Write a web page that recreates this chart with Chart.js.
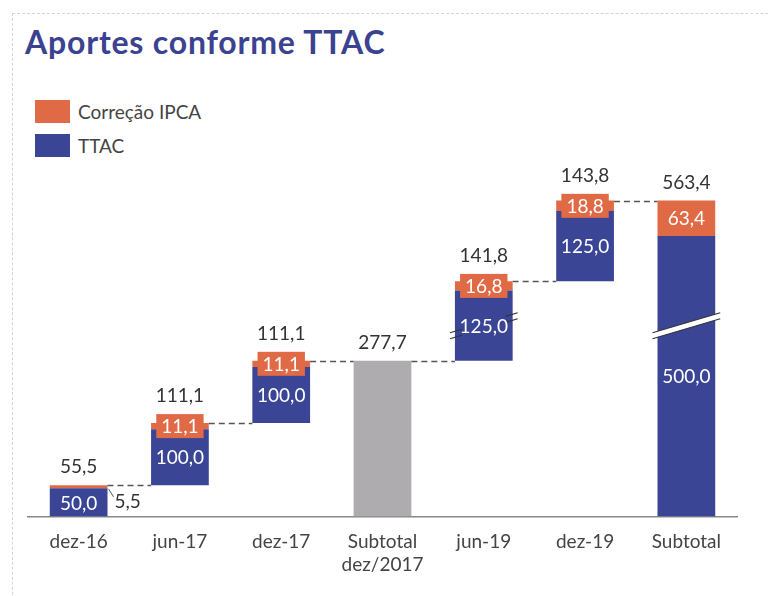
<!DOCTYPE html>
<html>
<head>
<meta charset="utf-8">
<script src="https://cdn.jsdelivr.net/npm/chart.js@4.4.1/dist/chart.umd.min.js"></script>
<style>
  html, body { margin: 0; padding: 0; background: #fff; }
  #wrap { position: relative; width: 770px; height: 596px; overflow: hidden; font-family: Lato, 'Open Sans', sans-serif; }
  #frame { position: absolute; left: 12px; top: 13px; width: 900px; height: 900px; border-left: 1px dashed #d4d4d4; border-top: 1px dashed #d4d4d4; }
  h1 { position: absolute; left: 25px; top: 22px; margin: 0; font-size: 32px; font-weight: 700; color: #3b4290; letter-spacing: 0.8px; }
  .leg { position: absolute; left: 35px; height: 23px; line-height: 23px; font-size: 19px; color: #444; }
  .leg span { display: inline-block; width: 35px; height: 23px; vertical-align: top; margin-right: 8px; }
  canvas { position: absolute; left: 0; top: 0; }
</style>
</head>
<body>
<div id="wrap">
  <div id="frame"></div>
  <h1>Aportes conforme TTAC</h1>
  <div class="leg" style="top:100px"><span style="background:#e06a45"></span>Correção IPCA</div>
  <div class="leg" style="top:134px"><span style="background:#3a4596"></span>TTAC</div>
  <canvas id="chart" width="770" height="596"></canvas>
</div>
<script>
// data
const categories = ['dez-16', 'jun-17', 'dez-17', ['Subtotal', 'dez/2017'], 'jun-19', 'dez-19', 'Subtotal'];
const ttac = [50.0, 100.0, 100.0, null, 125.0, 125.0, 500.0];
const ipca = [5.5, 11.1, 11.1, null, 16.8, 18.8, 63.4];
const subtotal = [null, null, null, 277.7, null, null, null];
const totals = [55.5, 111.1, 111.1, 277.7, 141.8, 143.8, 563.4];
const isSubtotal = [false, false, false, true, false, false, true];

const BLUE = '#3a4596';
const ORANGE = '#e06a45';
const GRAY = '#afacaf';
const FONT = 'Lato, "Open Sans", sans-serif';

// floating ranges for the waterfall
const bases = [];
let running = 0;
categories.forEach((c, i) => {
    if (isSubtotal[i]) {
        bases.push(0);
    } else {
        bases.push(running);
        running += ttac[i] + ipca[i];
    }
});
const ttacBars = ttac.map((v, i) => v == null ? null : [bases[i], bases[i] + v]);
const ipcaBars = ipca.map((v, i) => v == null ? null : [bases[i] + ttac[i], bases[i] + ttac[i] + v]);
const grayBars = subtotal.map(v => v == null ? null : [0, v]);
const tops = categories.map((c, i) => subtotal[i] != null ? subtotal[i] : bases[i] + ttac[i] + ipca[i]);

const fmt = v => v.toFixed(1).replace('.', ',');

const waterfallPlugin = {
    id: 'waterfall',
    afterDatasetsDraw(chart) {
        const ctx = chart.ctx;
        const y = chart.scales.y;
        const bar = i => {
            const m = chart.getDatasetMeta(subtotal[i] != null ? 2 : 0).data[i];
            return { x: m.x, w: m.width };
        };
        ctx.save();

        // dashed connectors
        ctx.strokeStyle = '#555';
        ctx.lineWidth = 1.5;
        ctx.setLineDash([6, 4]);
        for (let i = 0; i < categories.length - 1; i++) {
            const a = bar(i), b = bar(i + 1);
            const py = Math.round(y.getPixelForValue(tops[i])) + 0.5;
            ctx.beginPath();
            ctx.moveTo(a.x + a.w / 2, py);
            ctx.lineTo(b.x - b.w / 2, py);
            ctx.stroke();
        }
        ctx.setLineDash([]);

        // axis break marks
        [{ i: 4, full: false }, { i: 6, full: true }].forEach(br => {
            const b = bar(br.i);
            const cy = y.getPixelForValue(340);
            const x0 = b.x - b.w / 2 - 5, x1 = b.x + b.w / 2 + 5;
            const slope = -20 / (x1 - x0);
            if (br.full) {
                ctx.fillStyle = '#fff';
                ctx.beginPath();
                ctx.moveTo(x0, cy + 10 - 3);
                ctx.lineTo(x1, cy - 10 - 3);
                ctx.lineTo(x1, cy - 10 + 3);
                ctx.lineTo(x0, cy + 10 + 3);
                ctx.closePath();
                ctx.fill();
            }
            ctx.strokeStyle = '#333';
            ctx.lineWidth = 1.2;
            [-3, 3].forEach(off => {
                ctx.beginPath();
                if (br.full) {
                    ctx.moveTo(x0, cy + 10 + off);
                    ctx.lineTo(x1, cy - 10 + off);
                } else {
                    ctx.moveTo(x0, cy + 10 + off);
                    ctx.lineTo(x0 + 12, cy + 10 + off + slope * 12);
                    ctx.moveTo(x1 - 12, cy - 10 + off - slope * 12);
                    ctx.lineTo(x1, cy - 10 + off);
                }
                ctx.stroke();
            });
        });

        ctx.font = '19px ' + FONT;
        ctx.textAlign = 'center';
        ctx.textBaseline = 'middle';

        categories.forEach((c, i) => {
            const b = bar(i);
            let topPx = y.getPixelForValue(tops[i]);
            if (ttac[i] != null) {
                // TTAC label
                const cy = (y.getPixelForValue(ttacBars[i][0]) + y.getPixelForValue(ttacBars[i][1])) / 2;
                ctx.fillStyle = '#fff';
                ctx.fillText(fmt(ttac[i]), b.x, cy + 1);
                // IPCA label
                const oy = (y.getPixelForValue(ipcaBars[i][0]) + y.getPixelForValue(ipcaBars[i][1])) / 2;
                if (i === 0) {
                    const ex = b.x + b.w / 2;
                    ctx.strokeStyle = '#555';
                    ctx.lineWidth = 1;
                    ctx.beginPath();
                    ctx.moveTo(ex + 1, oy + 2);
                    ctx.lineTo(ex + 6, oy + 10);
                    ctx.stroke();
                    ctx.fillStyle = '#333';
                    ctx.textAlign = 'left';
                    ctx.fillText(fmt(ipca[i]), ex + 7, oy + 15);
                    ctx.textAlign = 'center';
                } else {
                    const tw = ctx.measureText(fmt(ipca[i])).width + 10;
                    const bh = 24;
                    ctx.fillStyle = ORANGE;
                    ctx.fillRect(b.x - tw / 2, oy - bh / 2, tw, bh);
                    ctx.fillStyle = '#fff';
                    ctx.fillText(fmt(ipca[i]), b.x, oy + 1);
                    topPx = Math.min(topPx, oy - bh / 2);
                }
            }
            ctx.fillStyle = '#333';
            ctx.fillText(fmt(totals[i]), b.x, topPx - 18);
        });
        ctx.restore();
    }
};

new Chart(document.getElementById('chart'), {
    type: 'bar',
    data: {
        labels: categories,
        datasets: [
            { label: 'TTAC', data: ttacBars, backgroundColor: BLUE, grouped: false },
            { label: 'Correção IPCA', data: ipcaBars, backgroundColor: ORANGE, grouped: false },
            { label: 'Subtotal', data: grayBars, backgroundColor: GRAY, grouped: false }
        ]
    },
    options: {
        responsive: false,
        animation: false,
        layout: { padding: { left: 28, right: 33, top: 180, bottom: 14 } },
        datasets: { bar: { categoryPercentage: 1, barPercentage: 0.57 } },
        scales: {
            x: {
                grid: { display: false },
                border: { display: true, color: '#888', width: 1.5 },
                ticks: { color: '#444', font: { family: FONT, size: 19 }, padding: 6, maxRotation: 0 }
            },
            y: { display: false, min: 0, max: 600 }
        },
        plugins: {
            legend: { display: false },
            tooltip: { enabled: false }
        }
    },
    plugins: [waterfallPlugin]
});
</script>
</body>
</html>
